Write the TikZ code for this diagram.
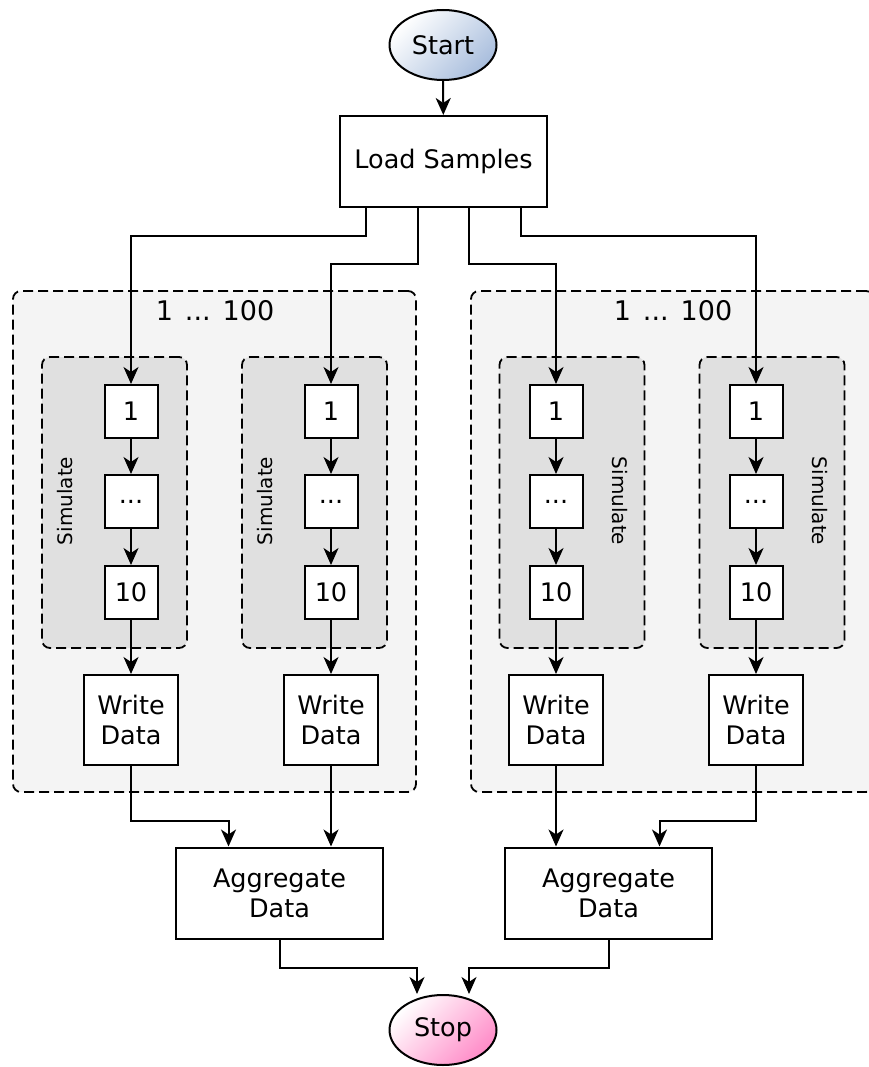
\documentclass[tikz,border=0pt]{standalone}
\usepackage{fontspec}
\setmainfont{DejaVu Sans}
\usetikzlibrary{arrows.meta,shapes.geometric,calc}
\definecolor{startblue}{HTML}{A9BEDD}
\definecolor{stoppink}{HTML}{FF8CC8}
\definecolor{outerfill}{HTML}{F4F4F4}
\definecolor{innerfill}{HTML}{E0E0E0}
\begin{document}
\begin{tikzpicture}[x=1pt,y=-1pt,
  base/.style={font=\fontsize{25.5}{30}\selectfont, inner sep=0pt, line width=2pt},
  term/.style={base, ellipse, draw, minimum width=107pt, minimum height=70pt},
  proc/.style={base, rectangle, draw, fill=white, align=center},
  small/.style={proc, minimum width=53pt, minimum height=53pt},
  wd/.style={proc, minimum width=94pt, minimum height=90pt},
  big/.style={proc, minimum width=207pt, minimum height=91pt},
  outerbox/.style={draw, fill=outerfill, dash pattern=on 10pt off 5pt, line width=1.8pt, rounded corners=8pt, minimum width=403pt, minimum height=501pt, inner sep=0pt},
  innerbox/.style={draw, fill=innerfill, dash pattern=on 10pt off 5pt, line width=1.8pt, rounded corners=8pt, minimum width=145pt, minimum height=291pt, inner sep=0pt},
  simlabel/.style={font=\fontsize{20}{24}\selectfont, inner sep=0pt},
  cntlabel/.style={font=\fontsize{27}{32}\selectfont, inner sep=0pt},
  arr/.style={line width=2pt, -{Stealth[length=17pt,width=15pt,inset=5pt]}}
]
\useasboundingbox (0,0) rectangle (868,1067);
\fill[white] (0,0) rectangle (868,1067);

% containers
\node[outerbox] (OL) at (214.5,541.5) {};
\node[outerbox] (OR) at (672.5,541.5) {};
\node[cntlabel] (CL) at (215,311) {1\hspace{12pt}...\hspace{12pt}100};
\node[cntlabel] (CR) at (673,311) {1\hspace{12pt}...\hspace{12pt}100};
\node[innerbox] (I1) at (114.5,502.5) {};
\node[innerbox] (I2) at (314.5,502.5) {};
\node[innerbox] (I3) at (572,502.5) {};
\node[innerbox] (I4) at (772,502.5) {};
\node[simlabel, rotate=90] (S1) at (65,501) {Simulate};
\node[simlabel, rotate=90] (S2) at (265,501) {Simulate};
\node[simlabel, rotate=-90] (S3) at (620,501) {Simulate};
\node[simlabel, rotate=-90] (S4) at (820,501) {Simulate};

% terminals
\node[term, top color=white, bottom color=startblue, shading angle=45] (start) at (443,45) {Start};
\node[term, top color=white, bottom color=stoppink, shading angle=45] (stop) at (443,1030) {Stop};

\node[big] (load) at (443.5,161.5) {Load Samples};

% columns
\foreach \i/\x in {1/131,2/331,3/556,4/756}{
  \node[small] (a\i) at (\x,411.5) {1};
  \node[small] (b\i) at (\x,501.5) {...};
  \node[small] (c\i) at (\x,592.5) {10};
  \node[wd] (w\i) at (\x,720) {Write\\Data};
  \draw[arr] (a\i) -- (b\i);
  \draw[arr] (b\i) -- (c\i);
  \draw[arr] (c\i) -- (w\i);
}

\node[big] (agg1) at (279.5,893) {Aggregate\\Data};
\node[big] (agg2) at (608.5,893) {Aggregate\\Data};

% connectors
\draw[arr] (start) -- (load);
\draw[arr] ([xshift=-77.5pt]load.south) -- ++(0,28) -| (a1.north);
\draw[arr] ([xshift=-25.5pt]load.south) -- ++(0,56) -| (a2.north);
\draw[arr] ([xshift=25.5pt]load.south) -- ++(0,56) -| (a3.north);
\draw[arr] ([xshift=77.5pt]load.south) -- ++(0,28) -| (a4.north);

\draw[arr] (w1.south) -- ++(0,55) -| ([xshift=-51pt]agg1.north);
\draw[arr] (w2.south) -- (w2.south |- agg1.north);
\draw[arr] (w3.south) -- (w3.south |- agg2.north);
\draw[arr] (w4.south) -- ++(0,55) -| ([xshift=51pt]agg2.north);

\draw[arr] (agg1.south) -- ++(0,28.5) -| ([xshift=-26pt]stop.north);
\draw[arr] (agg2.south) -- ++(0,28.5) -| ([xshift=26pt]stop.north);
\end{tikzpicture}
\end{document}
